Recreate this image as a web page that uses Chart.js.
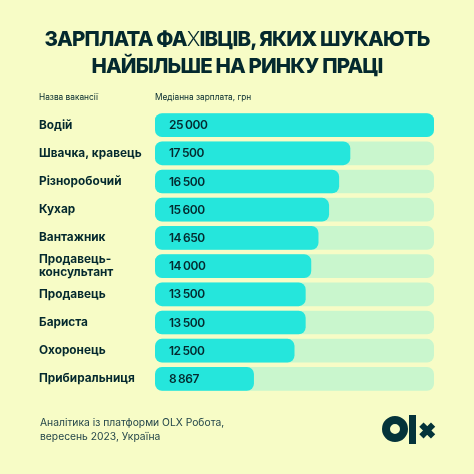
<!DOCTYPE html>
<html lang="uk">
<head>
<meta charset="utf-8">
<title>Зарплата фахівців</title>
<script src="https://cdn.jsdelivr.net/npm/chart.js@4"></script>
<style>
html, body { margin: 0; padding: 0; width: 474px; height: 474px; overflow: hidden; background: #f7fcc6; }
body { position: relative; font-family: Inter, sans-serif; color: #04292e; }
canvas { position: absolute; left: 0; top: 0; }
.txt { position: absolute; white-space: nowrap; }
#title { left: 0; width: 474px; top: 25px; text-align: center; font-size: 20.5px; line-height: 27px; font-weight: 800; letter-spacing: -0.85px; }
#title .thin { font-weight: 300; }
#title .heavy { font-weight: 900; }
.head { top: 91px; font-size: 8.3px; line-height: 12px; }
#source { left: 40px; top: 415px; font-size: 10.3px; line-height: 14px; color: #24464a; }
#logo { position: absolute; left: 380px; top: 412px; }
</style>
</head>
<body>
<canvas id="salaryChart" width="474" height="474"></canvas>
<div class="txt" id="title">ЗАРПЛАТА ФА<span class="thin">Х</span>ІВЦІВ, ЯКИ<span class="heavy">Х</span> ШУКАЮТЬ<br>НАЙБІЛЬШЕ НА РИНКУ ПРАЦІ</div>
<div class="txt head" style="left:39px">Назва вакансії</div>
<div class="txt head" style="left:155px">Медіанна зарплата, грн</div>
<div class="txt" id="source">Аналітика із платформи OLX Робота,<br>вересень 2023, Україна</div>
<svg id="logo" width="58" height="36" viewBox="0 0 58 36" aria-label="OLX">
  <circle cx="15" cy="17" r="9" fill="none" stroke="#04333a" stroke-width="8"/>
  <rect x="29" y="3" width="7" height="29" fill="#04333a"/>
  <path d="M43.5 14.7 L51 22.3 M51 14.7 L43.5 22.3" stroke="#04333a" stroke-width="6" stroke-linecap="square"/>
</svg>
<script>
const categories = ['Водій', 'Швачка, кравець', 'Різноробочий', 'Кухар', 'Вантажник',
    ['Продавець-', 'консультант'], 'Продавець', 'Бариста', 'Охоронець', 'Прибиральниця'];
const salaries = [25000, 17500, 16500, 15600, 14650, 14000, 13500, 13500, 12500, 8867];
const salaryLabels = ['25 000', '17 500', '16 500', '15 600', '14 650', '14 000', '13 500', '13 500', '12 500', '8 867'];
const trackValues = [25000, 25000, 25000, 25000, 25000, 25000, 25000, 25000, 25000, 25000];

// writes the salary inside each bar
const valueLabels = {
    id: 'valueLabels',
    afterDatasetsDraw(chart) {
        const ctx = chart.ctx;
        const meta = chart.getDatasetMeta(0);
        ctx.save();
        ctx.font = '600 12px Inter';
        ctx.letterSpacing = '-0.45px';
        ctx.wordSpacing = '-0.7px';
        ctx.fillStyle = '#04292e';
        ctx.textBaseline = 'middle';
        meta.data.forEach((bar, i) => {
            ctx.fillText(salaryLabels[i], chart.scales.x.left + 14, bar.y + 0.5);
        });
        ctx.restore();
    }
};

new Chart(document.getElementById('salaryChart').getContext('2d'), {
    type: 'bar',
    data: {
        labels: categories,
        datasets: [
            { data: salaries, backgroundColor: '#25e6dc', order: 1 },
            { data: trackValues, backgroundColor: '#c9f6cd', order: 2 }
        ]
    },
    options: {
        indexAxis: 'y',
        responsive: false,
        animation: false,
        layout: { padding: { left: 39, right: 40, top: 111, bottom: 81 } },
        datasets: {
            bar: { grouped: false, categoryPercentage: 1, barPercentage: 0.84, borderRadius: 7, borderSkipped: false }
        },
        scales: {
            x: { display: false, min: 0, max: 25000 },
            y: {
                afterFit(scale) { scale.width = 116; },
                border: { display: false },
                grid: { display: false },
                ticks: {
                    crossAlign: 'far',
                    color: '#04292e',
                    autoSkip: false,
                    padding: 0,
                    font: { family: 'Inter', size: 11.8, weight: '700', lineHeight: 1.12 }
                }
            }
        },
        plugins: { legend: { display: false }, tooltip: { enabled: false } }
    },
    plugins: [valueLabels]
});
</script>
</body>
</html>
